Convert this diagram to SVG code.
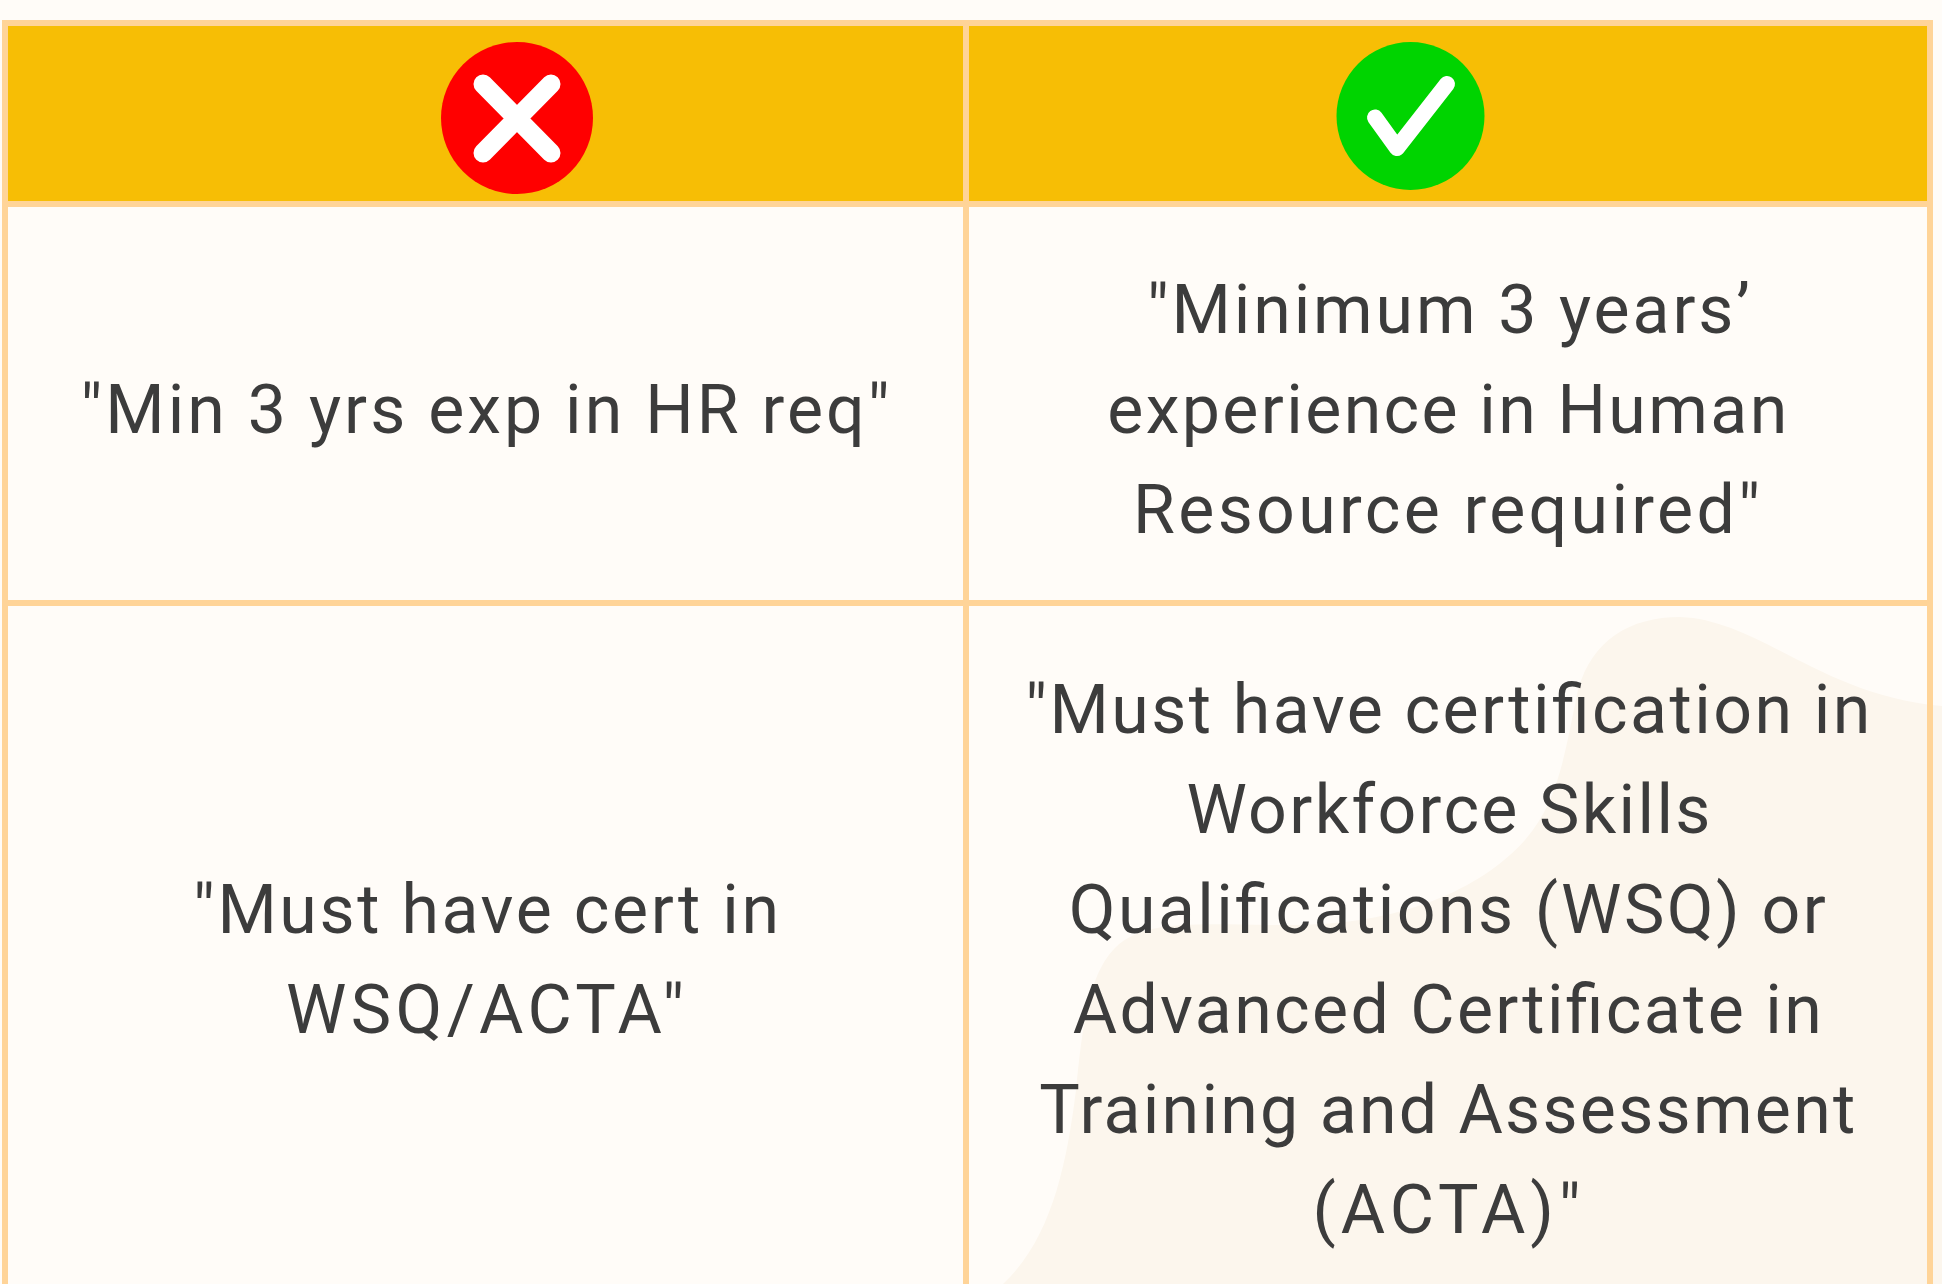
<svg xmlns="http://www.w3.org/2000/svg" width="1942" height="1284" viewBox="0 0 1942 1284">
<style>
.t{font-family:"Roboto","Noto Sans",sans-serif;font-size:68px;fill:#3c3c3c;text-anchor:middle}
.g{stroke:#ffd498;stroke-width:6;fill:none}
.m{stroke:#fff;stroke-linecap:round;stroke-linejoin:round;fill:none}
</style>
<rect width="1942" height="1284" fill="#fffcf8"/>
<path id="blob" d="M1003 1284C1050 1240 1066 1170 1076 1090C1082 1030 1088 975 1115 948C1145 918 1200 925 1290 925C1400 925 1480 890 1525 840C1560 800 1565 750 1578 690C1592 640 1630 617 1680 617C1760 620 1820 695 1942 706V1284Z" fill="#fcf6ed"/>
<rect id="header" x="5" y="23" width="1925" height="181" fill="#f7be05"/>
<g id="connectors">
<path class="g" d="M2 23H1933M2 204H1933M2 603H1933M5 23V1284M966 23V1284M1930 23V1284"/>
</g>
<g id="bad"><circle cx="517" cy="118" r="76" fill="#ff0000"/><path class="m" style="stroke-width:19" d="M483 84L551 153M551 84L483 153"/></g>
<g id="good"><circle cx="1410.500" cy="116" r="74" fill="#00d400"/><path class="m" style="stroke-width:16" d="M1375 117.500L1397 148L1447 84"/></g>
<g id="cell-1"><text class="t" x="485" y="432.600" textLength="809">"Min 3 yrs exp in HR req"</text></g>
<g id="cell-2"><text class="t" x="1448.400" y="332.600" textLength="603">"Minimum 3 years’</text><text class="t" x="1447.200" y="432.600" textLength="680">experience in Human</text><text class="t" x="1446.500" y="532.600" textLength="627">Resource required"</text></g>
<g id="cell-3"><text class="t" x="486" y="932.600" textLength="586">"Must have cert in</text><text class="t" x="485" y="1032.600" textLength="398">WSQ/ACTA"</text></g>
<g id="cell-4"><text class="t" x="1447.800" y="732.600" textLength="845">"Must have certification in</text><text class="t" x="1448.400" y="832.600" textLength="524">Workforce Skills</text><text class="t" x="1447.200" y="932.600" textLength="757">Qualifications (WSQ) or</text><text class="t" x="1447.200" y="1032.600" textLength="749">Advanced Certificate in</text><text class="t" x="1447.200" y="1132.600" textLength="816">Training and Assessment</text><text class="t" x="1446.600" y="1232.600" textLength="268">(ACTA)"</text></g>
</svg>
